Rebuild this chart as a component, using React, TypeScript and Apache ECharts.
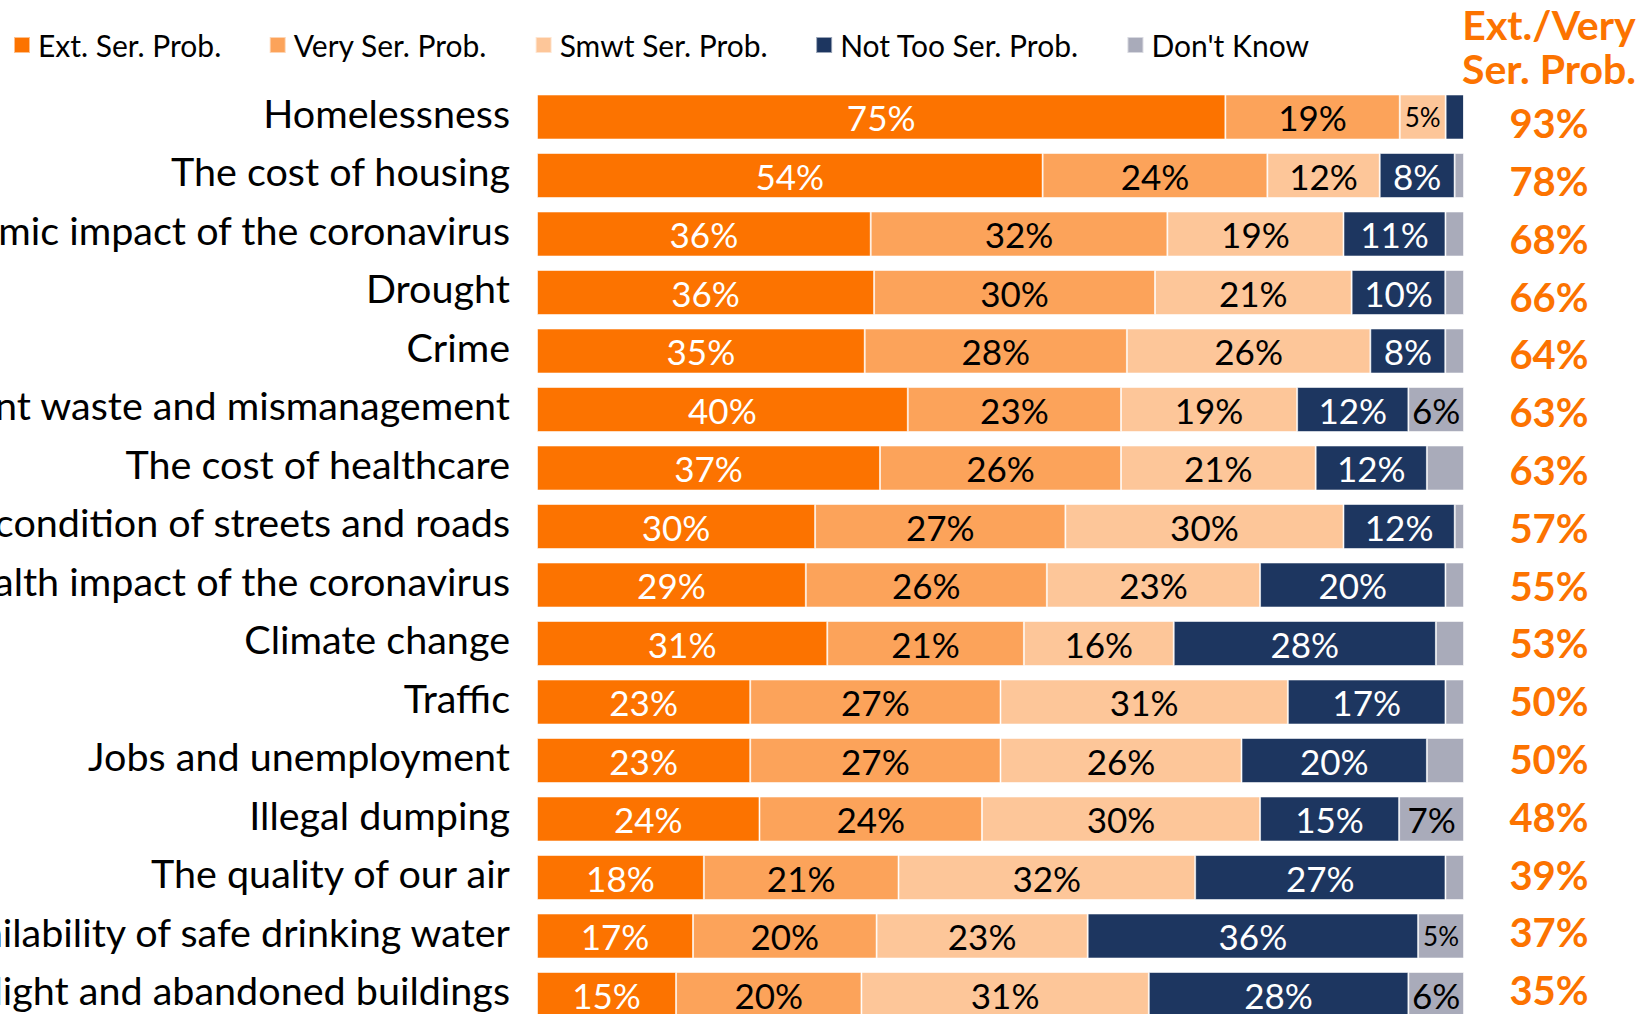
import React, { useEffect, useRef } from "react";
import * as echarts from "echarts";

const categories = [
  "Homelessness",
  "The cost of housing",
  "The economic impact of the coronavirus",
  "Drought",
  "Crime",
  "Government waste and mismanagement",
  "The cost of healthcare",
  "The condition of streets and roads",
  "The health impact of the coronavirus",
  "Climate change",
  "Traffic",
  "Jobs and unemployment",
  "Illegal dumping",
  "The quality of our air",
  "The availability of safe drinking water",
  "Blight and abandoned buildings",
];

const seriesNames = [
  "Ext. Ser. Prob.",
  "Very Ser. Prob.",
  "Smwt Ser. Prob.",
  "Not Too Ser. Prob.",
  "Don't Know",
];

const extSer = [75, 54, 36, 36, 35, 40, 37, 30, 29, 31, 23, 23, 24, 18, 17, 15];
const verySer = [19, 24, 32, 30, 28, 23, 26, 27, 26, 21, 27, 27, 24, 21, 20, 20];
const smwtSer = [5, 12, 19, 21, 26, 19, 21, 30, 23, 16, 31, 26, 30, 32, 23, 31];
const notTooSer = [2, 8, 11, 10, 8, 12, 12, 12, 20, 28, 17, 20, 15, 27, 36, 28];
const dontKnow = [0, 1, 2, 2, 2, 6, 4, 1, 2, 3, 2, 4, 7, 2, 5, 6];
const extVery = [93, 78, 68, 66, 64, 63, 63, 57, 55, 53, 50, 50, 48, 39, 37, 35];

const headerLines = ["Ext./Very", "Ser. Prob."];

const colors = ["#FC7300", "#FCA35A", "#FDC699", "#1D3660", "#A9ABBA"];
const labelColors = ["#FFFFFF", "#000000", "#000000", "#FFFFFF", "#000000"];
const ORANGE = "#FC7300";
const FONT = "Lato, 'Noto Sans', sans-serif";

export default function App() {
  const ref = useRef<HTMLDivElement>(null);

  useEffect(() => {
    document.body.style.margin = "0";
    if (!ref.current) return;
    const chart = echarts.init(ref.current, undefined, { renderer: "svg" });
    const raw = [extSer, verySer, smwtSer, notTooSer, dontKnow];
    const sums = categories.map((_, i) => raw.reduce((a, s) => a + s[i], 0));

    const series = raw.map((vals, s) => ({
      name: seriesNames[s],
      type: "bar",
      stack: "total",
      barWidth: 45,
      xAxisIndex: 0,
      yAxisIndex: 0,
      itemStyle: {
        color: colors[s],
        borderColor: "rgba(255,255,255,0.55)",
        borderWidth: 1,
      },
      label: {
        show: true,
        position: "inside",
        color: labelColors[s],
        fontFamily: FONT,
        fontSize: 35,
        formatter: (p: any) => vals[p.dataIndex] + "%",
      },
      data: vals.map((v, i) => ({
        value: (v / sums[i]) * 100,
        label: {
          show: v >= 5,
          fontSize: v <= 5 ? 26 : 35,
        },
      })),
    }));

    const TOP = 87.75;
    const BOTTOM = -9.75;
    const gridBase = {
      left: 537,
      right: 180,
      containLabel: false,
      outerBoundsMode: "none",
    };
    const hiddenX = (gridIndex: number) => ({
      type: "value",
      min: 0,
      max: 100,
      show: false,
      gridIndex,
    });

    chart.setOption({
      animation: false,
      backgroundColor: "#FFFFFF",
      legend: {
        left: 8,
        top: 25,
        itemWidth: 16,
        itemHeight: 16,
        itemGap: 47.5,
        icon: "rect",
        data: seriesNames,
        textStyle: {
          fontFamily: FONT,
          fontSize: 30,
          color: "#000000",
          padding: [0, 0, 0, 3],
        },
      },
      grid: [
        { ...gridBase, top: TOP, bottom: BOTTOM },
        { ...gridBase, top: TOP - 5, bottom: BOTTOM + 5 },
        { ...gridBase, top: 94.3, bottom: -5.2 },
      ],
      xAxis: [hiddenX(0), hiddenX(1), hiddenX(2)],
      yAxis: [
        {
          type: "category",
          gridIndex: 0,
          data: categories,
          inverse: true,
          axisLine: { show: false },
          axisTick: { show: false },
          axisLabel: { show: false },
        },
        {
          type: "category",
          gridIndex: 1,
          data: categories,
          inverse: true,
          axisLine: { show: false },
          axisTick: { show: false },
          axisLabel: {
            margin: 27,
            fontFamily: FONT,
            fontSize: 39.5,
            color: "#000000",
            hideOverlap: false,
          },
        },
        {
          type: "category",
          gridIndex: 2,
          data: extVery.map((v) => v + "%"),
          inverse: true,
          position: "right",
          axisLine: { show: false },
          axisTick: { show: false },
          axisLabel: {
            margin: 85,
            align: "center",
            fontFamily: FONT,
            fontWeight: "bold",
            fontSize: 40,
            color: ORANGE,
          },
        },
      ],
      graphic: headerLines.map((line, i) => ({
        type: "text",
        x: 1549,
        y: 4 + i * 44,
        style: {
          text: line,
          fill: ORANGE,
          font: `bold 41px ${FONT}`,
          fontFamily: FONT,
          fontSize: 41,
          fontWeight: "bold",
          align: "center",
          textAlign: "center",
          verticalAlign: "top",
          textVerticalAlign: "top",
        },
      })),
      series,
    });
    return () => chart.dispose();
  }, []);

  return <div ref={ref} style={{ width: 1644, height: 1014 }} />;
}
